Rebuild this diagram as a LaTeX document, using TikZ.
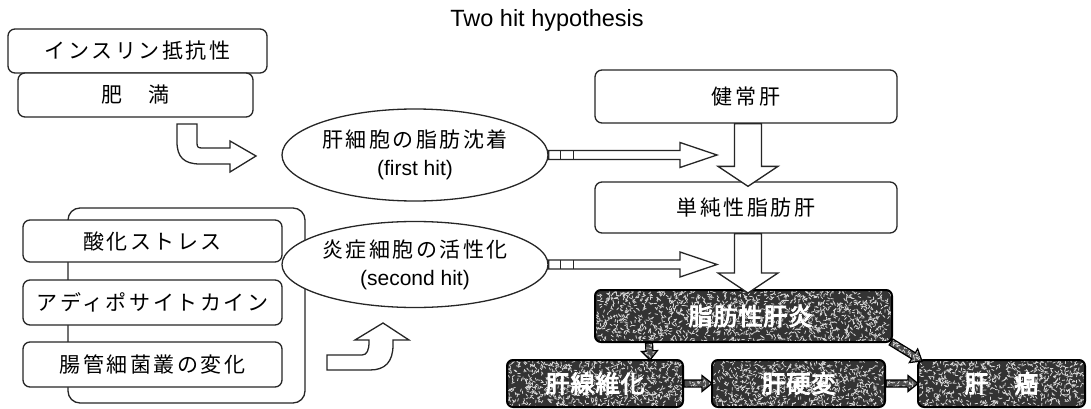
\documentclass[tikz,border=0pt]{standalone}
\usepackage{fontspec}
\usetikzlibrary{calc,shapes.geometric}

\newfontfamily\jpfont{Noto Sans CJK JP}[LetterSpace=12]
\newfontfamily\jpbold{Noto Sans CJK JP}[LetterSpace=4,FakeBold=4]
\newfontfamily\latfont{Liberation Sans}

% hollow block arrow from #1 to tip #2: shaft half-width #3, head half-width #4,
% head length #5, drawn with style #6
\newcommand\blockarrow[6]{%
  \coordinate (hb) at ($(#2)!#5!(#1)$);
  \path[#6] ($(#1)!#3!90:(#2)$) -- ($(hb)!#3!90:(#2)$) -- ($(hb)!#4!90:(#2)$)
    -- (#2) -- ($(hb)!#4!-90:(#2)$) -- ($(hb)!#3!-90:(#2)$)
    -- ($(#1)!#3!-90:(#2)$) -- cycle;}

\pgfmathsetseed{4711}

\tikzset{
  ink/.style={draw=black!85, line width=1.3pt},
  box/.style={ink, fill=white, rounded corners=7pt, inner sep=0pt,
    font=\jpfont\fontsize{21}{24}\selectfont},
  bubble/.style={ink, fill=white, ellipse, inner sep=0pt, align=center,
    font=\jpfont\fontsize{21}{31}\selectfont},
  hollow/.style={ink, fill=white, line join=miter},
  noisy/.style={draw=black, line width=2pt, fill=black!80,
    path picture={%
      \pgfpointanchor{path picture bounding box}{south west}\pgfgetlastxy{\nxa}{\nya}%
      \pgfpointanchor{path picture bounding box}{north east}\pgfgetlastxy{\nxb}{\nyb}%
      \pgfmathtruncatemacro{\nn}{(\nxb-\nxa)/11*(\nyb-\nya)}%
      \foreach \k in {1,...,\nn}{%
        \pgfmathsetmacro{\px}{\nxa+rnd*(\nxb-\nxa)}%
        \pgfmathsetmacro{\py}{\nya+rnd*(\nyb-\nya)}%
        \pgfmathsetmacro{\pa}{rnd*360}%
        \draw[white!85!black, line width=0.8pt, line cap=round] (\px pt,\py pt) -- ++(\pa:2.6pt);
      }}},
  darkbox/.style={noisy, rounded corners=6pt, inner sep=0pt, text=white,
    font=\jpbold\fontsize{24}{26}\selectfont},
  darkarrow/.style={noisy, line width=1.2pt, fill=black!70, line join=miter},
}

\begin{document}
\begin{tikzpicture}[x=1pt,y=-1pt]
\fill[white] (0,0) rectangle (1091,409);
\useasboundingbox (0,0) rectangle (1091,409);

% title
\node (title) at (547,20) {\latfont\fontsize{23.5}{26}\selectfont Two hit hypothesis};

% first-hit causes
\node[box, minimum width=259, minimum height=44] (ins) at (137.5,51) {インスリン抵抗性};
\node[box, minimum width=235, minimum height=44] (himan) at (135.5,95) {肥　満};

% second-hit causes, grouped
\node[ink, fill=white, rounded corners=12pt, minimum width=237, minimum height=195] (grp) at (186.5,305.5) {};
\node[box, minimum width=259, minimum height=42] (sanka) at (152.5,241) {酸化ストレス};
\node[box, minimum width=259, minimum height=45] (adipo) at (152.5,302.5) {アディポサイトカイン};
\node[box, minimum width=259, minimum height=45] (chou) at (152.5,364.5) {腸管細菌叢の変化};

% the two hits
\node[bubble, minimum width=266, minimum height=92] (e1) at (415,155)
  {\raisebox{-3pt}{肝細胞の脂肪沈着}\\{\latfont (first hit)}};
\node[bubble, minimum width=266, minimum height=86] (e2) at (415,264.5)
  {\raisebox{-3pt}{炎症細胞の活性化}\\{\latfont (second hit)}};

% curved arrows into the bubbles
\path[hollow] (177,124) -- (197,124) -- (197,143) .. controls (197,147) and (198,148) .. (202,148)
  -- (230,148) -- (230,141) -- (256,156) -- (230,172) -- (230,164) -- (200,164)
  .. controls (184,164) and (177,157) .. (177,142) -- cycle;
\path[hollow] (327,355) -- (362,355) .. controls (367,355) and (369,350) .. (369,342)
  -- (369,340) -- (355,340) -- (383,323) -- (409,340) -- (393,340) -- (393,345)
  .. controls (393,362) and (385,370) .. (370,370) -- (327,370) -- cycle;

% liver stages
\node[box, minimum width=302, minimum height=53] (kenjo) at (746,96.5) {健常肝};
\node[box, minimum width=302, minimum height=51] (tanjun) at (746,207.5) {単純性脂肪肝};
\node[darkbox, minimum width=297, minimum height=52] (shibou) at (743.5,316) {\hspace{14pt}脂肪性肝炎};
\node[darkbox, minimum width=176, minimum height=47] (sen) at (595,383.5) {肝線維化};
\node[darkbox, minimum width=173, minimum height=47] (kou) at (798.5,383.5) {肝硬変};
\node[darkbox, minimum width=167, minimum height=47] (gan) at (1001.5,383.5) {肝　癌};

% hits feeding the stage sequence
\coordinate (t1) at (717,155);
\coordinate (t2) at (e2.east -| t1);
\blockarrow{e1.east}{t1}{4.5pt}{12.5pt}{37pt}{hollow}
\blockarrow{e2.east}{t2}{4.5pt}{12.5pt}{37pt}{hollow}
\foreach \e/\t in {e1/t1, e2/t2}{
  \foreach \d in {12pt,25pt}{
    \coordinate (q) at ($(\e.east)!\d!(\t)$);
    \draw[ink] ($(q)!4.5pt!90:(\t)$) -- ($(q)!4.5pt!-90:(\t)$);
  }}

% progression between stages
\coordinate (d1s) at ([xshift=2pt]kenjo.south);
\coordinate (d1t) at ([xshift=2pt,yshift=-5pt]tanjun.north);
\coordinate (d2s) at ([xshift=2pt]tanjun.south);
\coordinate (d2t) at ([xshift=4.5pt,yshift=-4pt]shibou.north);
\blockarrow{d1s}{d1t}{13.5pt}{30pt}{20pt}{hollow}
\blockarrow{d2s}{d2t}{13.5pt}{30pt}{20pt}{hollow}

\coordinate (s1s) at ([xshift=55pt]shibou.south west);
\coordinate (s1t) at ([xshift=55pt,yshift=-1pt]sen.north);
\coordinate (s2t) at ([xshift=1pt]kou.west);
\coordinate (s3t) at ([xshift=1pt]gan.west);
\coordinate (s4s) at ([xshift=-2pt,yshift=1pt]shibou.south east);
\coordinate (s4t) at ([xshift=5pt,yshift=-2pt]gan.north west);
\blockarrow{s1s}{s1t}{3.5pt}{8pt}{9pt}{darkarrow}
\blockarrow{sen.east}{s2t}{3.5pt}{8pt}{10pt}{darkarrow}
\blockarrow{kou.east}{s3t}{3.5pt}{8pt}{10pt}{darkarrow}
\blockarrow{s4s}{s4t}{3.5pt}{8pt}{10pt}{darkarrow}
\end{tikzpicture}
\end{document}
